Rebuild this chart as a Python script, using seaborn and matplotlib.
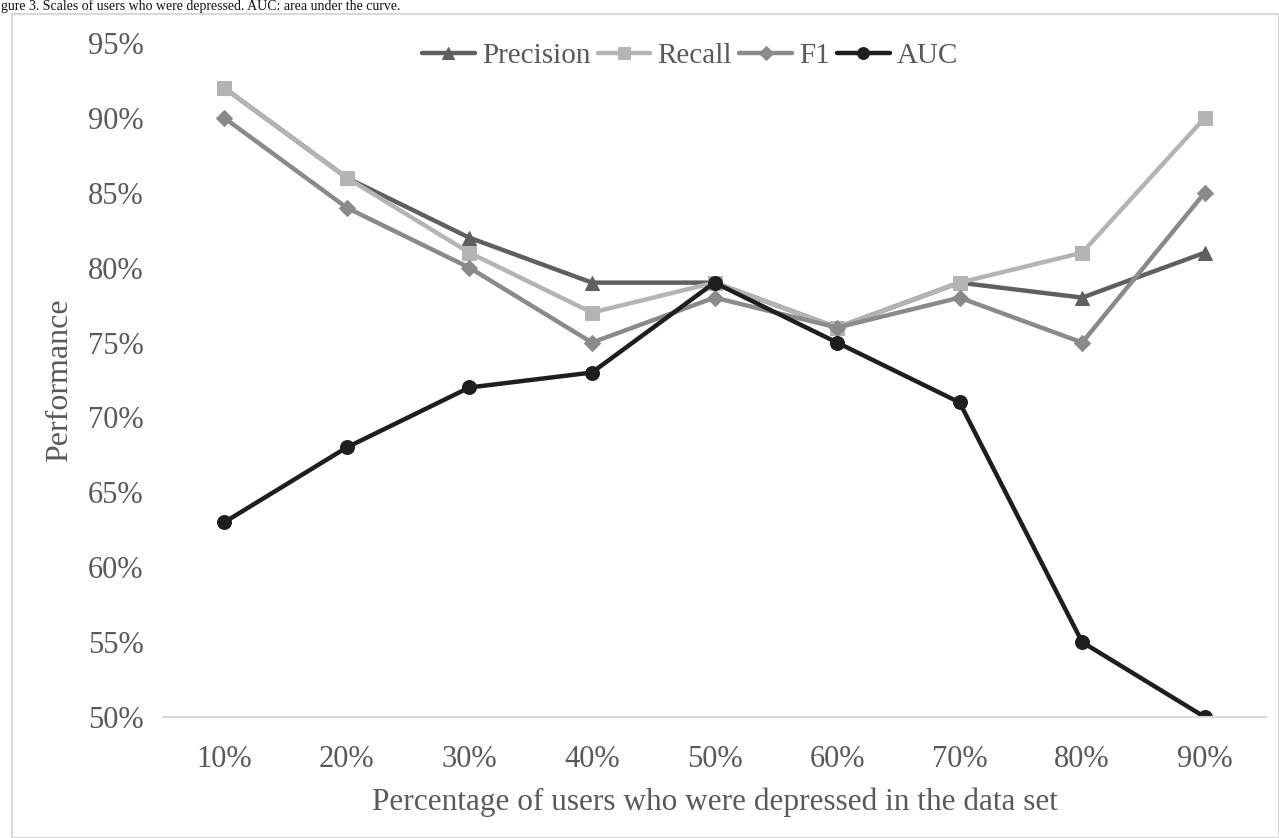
import matplotlib
matplotlib.use("Agg")
import matplotlib.pyplot as plt
import seaborn as sns
import pandas as pd
from matplotlib.patches import Rectangle
from matplotlib.ticker import FuncFormatter

categories = ["10%", "20%", "30%", "40%", "50%", "60%", "70%", "80%", "90%"]
precision = [92, 86, 82, 79, 79, 76, 79, 78, 81]
recall = [92, 86, 81, 77, 79, 76, 79, 81, 90]
f1 = [90, 84, 80, 75, 78, 76, 78, 75, 85]
auc = [63, 68, 72, 73, 79, 75, 71, 55, 50]
series_names = ["Precision", "Recall", "F1", "AUC"]
y_ticks = [50, 55, 60, 65, 70, 75, 80, 85, 90, 95]

sns.set_theme(style="white")
plt.rcParams["font.family"] = ["Liberation Serif", "DejaVu Serif"]
text_color = "#595959"

rows = []
for name, vals in zip(series_names, [precision, recall, f1, auc]):
    for i, (c, v) in enumerate(zip(categories, vals)):
        rows.append({"pos": i, "category": c, "value": v, "series": name})
df = pd.DataFrame(rows)

palette = {"Precision": "#5f5f5f", "Recall": "#b4b4b4", "F1": "#8a8a8a", "AUC": "#1e1e1e"}
markers = {"Precision": "^", "Recall": "s", "F1": "D", "AUC": "o"}
msizes = {"Precision": 10, "Recall": 10, "F1": 8, "AUC": 10}

fig = plt.figure(figsize=(12.79, 8.38), dpi=100)
ax = fig.add_axes([163 / 1279, 1 - 717 / 838, (1266 - 163) / 1279, (717 - 43) / 838])

for name in series_names:
    sub = df[df["series"] == name]
    sns.lineplot(data=sub, x="pos", y="value", ax=ax, color=palette[name],
                 marker=markers[name], markersize=msizes[name],
                 markeredgecolor=palette[name], linewidth=3.2, label=name)

ax.set_xlim(-0.5, len(categories) - 0.5)
ax.set_ylim(50, 95)
ax.set_xticks(range(len(categories)))
ax.set_xticklabels(categories)
ax.set_yticks(y_ticks)
ax.yaxis.set_major_formatter(FuncFormatter(lambda v, p: f"{int(v)}%"))
ax.tick_params(axis="both", labelsize=22, colors=text_color, length=0)
ax.tick_params(axis="x", pad=20)
ax.tick_params(axis="y", pad=14)
for s in ["top", "right", "left"]:
    ax.spines[s].set_visible(False)
ax.spines["bottom"].set_color("#d9d9d9")
ax.spines["bottom"].set_linewidth(1.5)
ax.set_xlabel("Percentage of users who were depressed in the data set", fontsize=22.5,
              color=text_color, labelpad=10)
ax.set_ylabel("Performance", fontsize=23, color=text_color, labelpad=10)
ax.grid(False)

leg = ax.legend(loc="center", bbox_to_anchor=(0.478, 1 - 13 / 674), ncol=4, frameon=False,
                fontsize=21, handlelength=1.8, handletextpad=0.25, columnspacing=0.25,
                borderaxespad=0, borderpad=0, markerscale=0.85)
for t in leg.get_texts():
    t.set_color(text_color)

fig.patches.append(Rectangle((12 / 1279, 0), 1 - 12 / 1279, 1 - 14 / 838,
                             transform=fig.transFigure, fill=False,
                             edgecolor="#d9d9d9", linewidth=1.5))
fig.text(0.001, 1 - 6 / 838, "gure 3. Scales of users who were depressed. AUC: area under the curve.",
         fontsize=10, color="#111111", va="center", ha="left", family="Liberation Serif")

fig.savefig("out.png", dpi=100)
